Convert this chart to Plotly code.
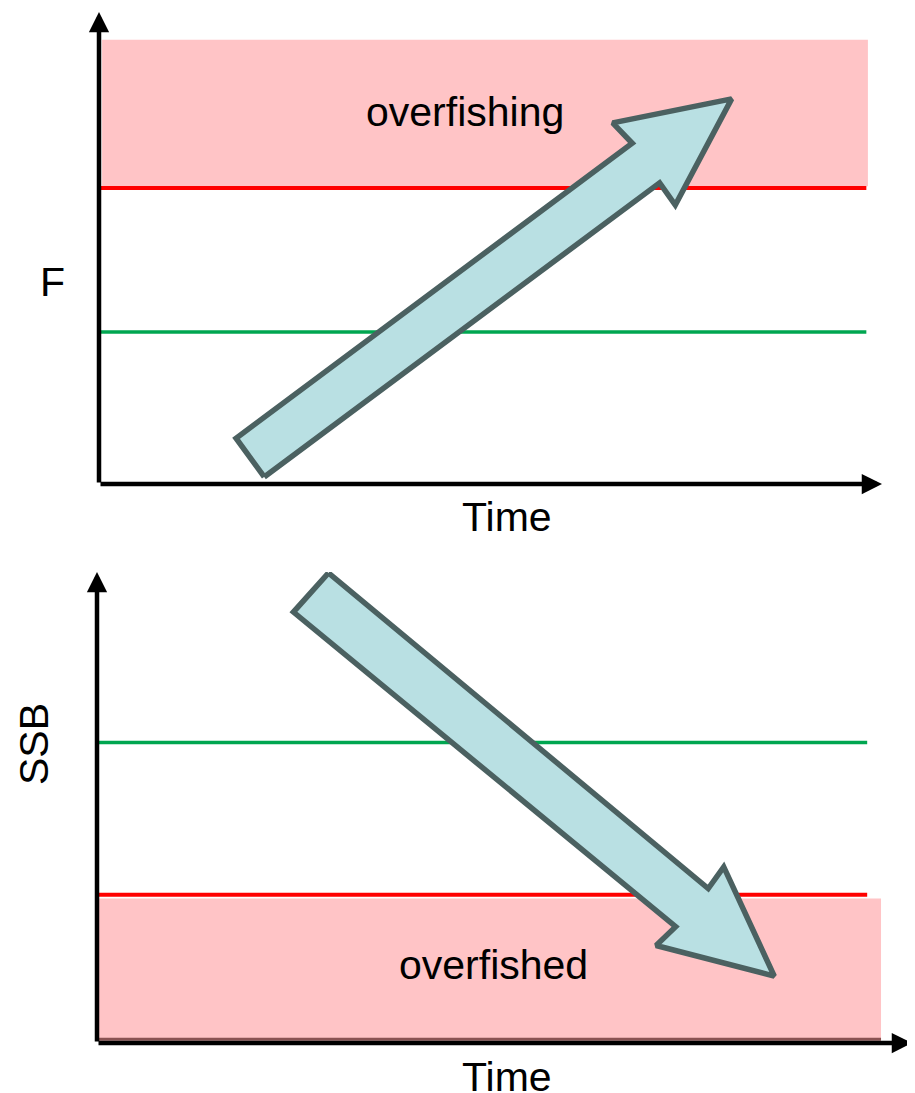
import plotly.graph_objects as go

# Top panel (F over time), axis units 0-100
f_band_x = [0.4, 98.2]
f_band_y = [63.1, 94.1]
f_limit = 62.7      # red reference line
f_target = 32.2     # green reference line
f_line_x = [0, 98]
f_arrow_x = [21.1, 71.6, 73.6, 80.8, 65.6, 68.1, 17.5]
f_arrow_y = [1.5, 63.8, 59.1, 81.6, 76.5, 72.2, 9.7]

# Bottom panel (SSB over time)
b_band_x = [0, 96.2]
b_band_y = [0.8, 30.7]
b_limit = 31.5
b_target = 63.8
b_line_x = [0, 94.5]
b_arrow_x = [28.4, 75.0, 76.9, 83.1, 68.6, 71.0, 24.1]
b_arrow_y = [99.8, 32.8, 37.4, 14.2, 20.7, 24.7, 91.5]

PINK = "#ffc4c6"
SHADOW = "#8a5252"
RED = "#ff0000"
GREEN = "#00a650"
ARROW_FILL = "#b9e0e3"
ARROW_LINE = "#4b6161"
FONT = "Liberation Sans, Arial, sans-serif"

# page has an 8px body margin, so the figure is shrunk to fit the window
W, H = 907, 1085
OFF = 8


def px(x):
    return (x - OFF) / W


def py(y):
    return 1 - (y - OFF) / H


fig = go.Figure()


def add_panel(xa, ya, band_x, band_y, limit, target, line_x, arrow_x, arrow_y, shadow=False):
    fig.add_trace(go.Scatter(
        x=[band_x[0], band_x[1], band_x[1], band_x[0]],
        y=[band_y[0], band_y[0], band_y[1], band_y[1]],
        fill="toself", fillcolor=PINK, mode="none",
        xaxis=xa, yaxis=ya, hoverinfo="skip",
    ))
    if shadow:
        fig.add_trace(go.Scatter(
            x=[band_x[0], band_x[1]], y=[band_y[0], band_y[0]], mode="lines",
            line=dict(color=SHADOW, width=3), xaxis=xa, yaxis=ya,
        ))
    fig.add_trace(go.Scatter(
        x=line_x, y=[limit, limit], mode="lines",
        line=dict(color=RED, width=4), xaxis=xa, yaxis=ya,
    ))
    fig.add_trace(go.Scatter(
        x=line_x, y=[target, target], mode="lines",
        line=dict(color=GREEN, width=3.5), xaxis=xa, yaxis=ya,
    ))
    fig.add_trace(go.Scatter(
        x=arrow_x + [arrow_x[0]], y=arrow_y + [arrow_y[0]],
        fill="toself", fillcolor=ARROW_FILL, mode="lines",
        line=dict(color=ARROW_LINE, width=5.5), xaxis=xa, yaxis=ya,
    ))
    # axes with arrowheads
    for tip in [(100, 0), (0, 100)]:
        fig.add_annotation(
            x=tip[0], y=tip[1], ax=0, ay=0,
            xref=xa, yref=ya, axref=xa, ayref=ya,
            text="", showarrow=True, arrowhead=2,
            arrowwidth=4.5, arrowsize=0.9, arrowcolor="black",
        )


add_panel("x", "y", f_band_x, f_band_y, f_limit, f_target, f_line_x, f_arrow_x, f_arrow_y)
add_panel("x2", "y2", b_band_x, b_band_y, b_limit, b_target, b_line_x, b_arrow_x, b_arrow_y,
          shadow=True)

txt = dict(showarrow=False, xanchor="center", yanchor="middle",
           font=dict(family=FONT, size=41, color="black"))
fig.add_annotation(x=46.7, y=78.8, xref="x", yref="y", text="overfishing", **txt)
fig.add_annotation(x=48.6, y=16.5, xref="x2", yref="y2", text="overfished", **txt)
fig.add_annotation(x=px(507), y=py(517), xref="paper", yref="paper", text="Time", **txt)
fig.add_annotation(x=px(52), y=py(282), xref="paper", yref="paper", text="F", **txt)
fig.add_annotation(x=px(507), y=py(1077), xref="paper", yref="paper", text="Time", **txt)
fig.add_annotation(x=px(34), y=py(744), xref="paper", yref="paper", text="SSB",
                   textangle=-90, **txt)

ax_style = dict(range=[0, 100], showgrid=False, zeroline=False, showticklabels=False,
                ticks="", showline=False, fixedrange=True)
fig.update_layout(
    width=W, height=H,
    margin=dict(l=0, r=0, t=0, b=0),
    paper_bgcolor="white", plot_bgcolor="white",
    showlegend=False,
    xaxis=dict(domain=[px(99), px(882)], **ax_style),
    yaxis=dict(domain=[py(484), py(12)], **ax_style),
    xaxis2=dict(domain=[px(97), px(912)], anchor="y2", **ax_style),
    yaxis2=dict(domain=[py(1043), py(572)], anchor="x2", **ax_style),
)

fig.write_html("out.html")
